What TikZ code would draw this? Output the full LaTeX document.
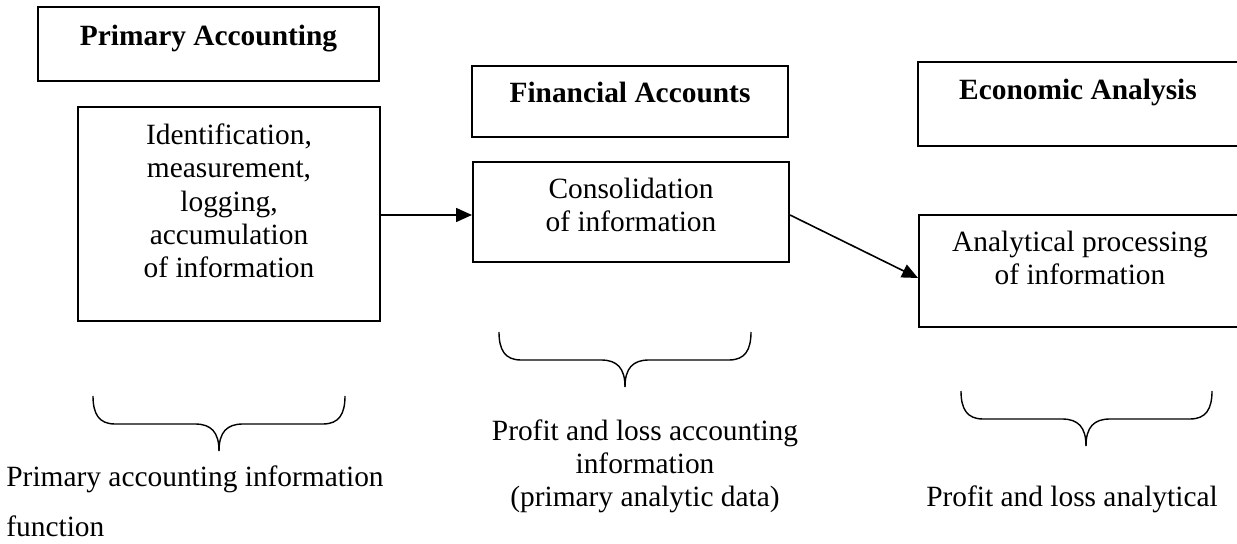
\documentclass[tikz,border=0pt]{standalone}
\usepackage{fontspec}
\setmainfont{Liberation Serif}
\usetikzlibrary{arrows.meta}
\tikzset{
  boxnode/.style={draw=black, line width=1pt, rectangle, inner sep=0pt},
  txt/.style={inner sep=0pt, anchor=base, align=center, font=\fontsize{14.7pt}{16.7pt}\selectfont},
  ttl/.style={inner sep=0pt, anchor=base, font=\fontsize{14.7pt}{16.7pt}\selectfont\bfseries},
  conn/.style={line width=0.8pt, -{Triangle[length=8pt,width=7pt]}},
  bracestyle/.style={line width=0.7pt}
}
\newcommand\curly[4]{%
  \draw[bracestyle] (#1,#4) .. controls +(0,18) and +(-16,0) .. ++(22,28) -- (#3-24,#4+28) .. controls +(16,0) and +(0,-19) .. (#3,#4+55);
  \draw[bracestyle] (#2,#4) .. controls +(0,18) and +(16,0) .. ++(-22,28) -- (#3+24,#4+28) .. controls +(-16,0) and +(0,-19) .. (#3,#4+55);
}
\begin{document}
\begin{tikzpicture}[x=0.5pt,y=-0.5pt]
\useasboundingbox (0,0) rectangle (1237,544);
\clip (0,0) rectangle (1237,544);
% boxes
\node[boxnode, minimum width=170.5pt, minimum height=37pt] (pa) at (208.5,44) {};
\node[boxnode, minimum width=151pt, minimum height=107pt] (id) at (229,214) {};
\node[boxnode, minimum width=158pt, minimum height=35.5pt] (fa) at (630,101.5) {};
\node[boxnode, minimum width=158pt, minimum height=50pt] (co) at (631,212) {};
\node[boxnode, minimum width=160pt, minimum height=42pt] (ea) at (1078,104) {};
\node[boxnode, minimum width=161pt, minimum height=56pt] (an) at (1080,271) {};
% titles
\node[ttl] (pat) at (208.5,46) {Primary Accounting};
\node[ttl] (fat) at (630,103) {Financial Accounts};
\node[ttl] (eat) at (1078,100) {Economic Analysis};
% box texts (anchor = baseline of last line)
\node[txt] (idt) at (229,278) {Identification,\\measurement,\\logging,\\accumulation\\of information};
\node[txt] (cot) at (631,231.5) {Consolidation\\of information};
\node[txt] (ant) at (1080,285) {Analytical processing\\of information};
% connectors
\draw[conn] (id.east |- 0,215) -- (co.west |- 0,215);
\draw[conn] (co.east |- 0,215) -- (an.west |- 0,278);
% braces
\curly{93}{345}{219}{396}
\curly{499}{751}{625}{332}
\curly{961}{1212}{1086}{391}
% bottom texts
\node[txt, align=left, anchor=base west, font=\fontsize{14.7pt}{25pt}\selectfont] (b1) at (6,537) {Primary accounting information\\function};
\node[txt] (b2) at (645,507) {Profit and loss accounting\\information\\(primary analytic data)};
\node[txt] (b3) at (1072,507) {Profit and loss analytical};
\end{tikzpicture}
\end{document}
